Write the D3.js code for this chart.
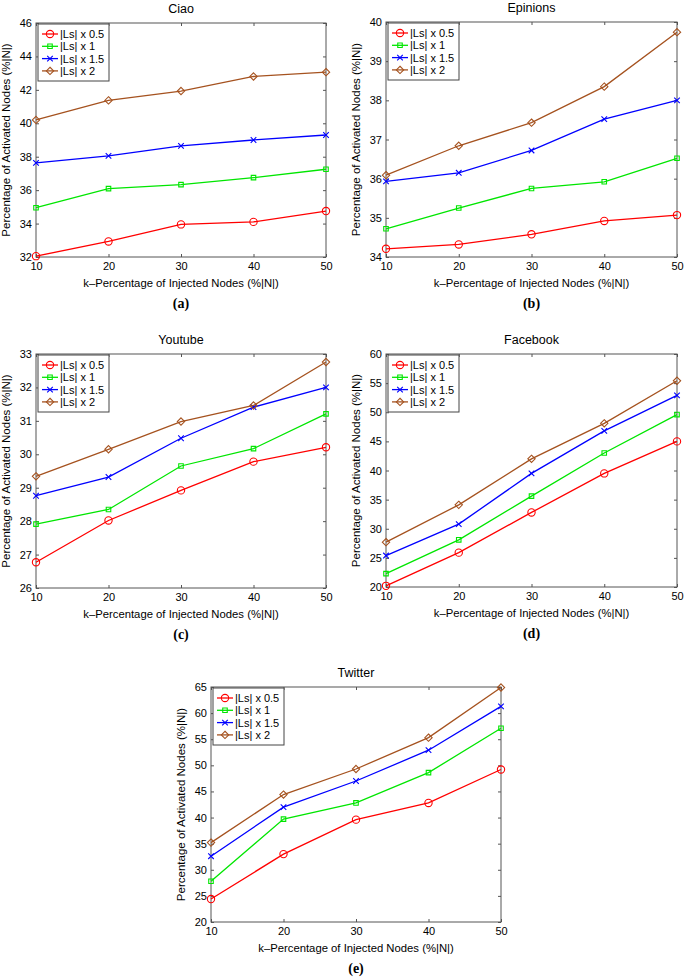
<!DOCTYPE html>
<html>
<head>
<meta charset="utf-8">
<script src="https://cdn.jsdelivr.net/npm/d3@7"></script>
<style>
  body { margin: 0; background: #fff; }
  text { font-family: "Liberation Sans", Arial, Helvetica, sans-serif; fill: #000; }
</style>
</head>
<body>
<div id="chart"></div>
<script>
// data
var kValues = [10, 20, 30, 40, 50];
var seriesNames = ["|Ls| x 0.5", "|Ls| x 1", "|Ls| x 1.5", "|Ls| x 2"];

var ciao = [
    [32.05, 32.93, 33.95, 34.1, 34.75],
    [34.95, 36.09, 36.33, 36.75, 37.25],
    [37.63, 38.05, 38.65, 39.0, 39.3],
    [40.2, 41.37, 41.93, 42.8, 43.06]
];
var epinions = [
    [34.21, 34.32, 34.58, 34.92, 35.07],
    [34.72, 35.25, 35.75, 35.92, 36.52],
    [35.93, 36.15, 36.72, 37.52, 38.0],
    [36.09, 36.84, 37.43, 38.35, 39.74]
];
var youtube = [
    [26.77, 28.02, 28.92, 29.78, 30.21],
    [27.91, 28.35, 29.65, 30.17, 31.21],
    [28.76, 29.32, 30.48, 31.41, 32.0],
    [29.34, 30.15, 30.98, 31.46, 32.76]
];
var facebook = [
    [20.2, 25.9, 32.8, 39.5, 45.0],
    [22.3, 28.1, 35.6, 43.0, 49.6],
    [25.4, 30.8, 39.5, 46.8, 52.9],
    [27.7, 34.1, 42.0, 48.1, 55.4]
];
var twitter = [
    [24.4, 33.0, 39.6, 42.8, 49.2],
    [27.8, 39.7, 42.8, 48.6, 57.1],
    [32.6, 42.0, 47.0, 52.9, 61.3],
    [35.2, 44.4, 49.3, 55.3, 64.9]
];

var titles = ["Ciao", "Epinions", "Youtube", "Facebook", "Twitter"];
var captions = ["(a)", "(b)", "(c)", "(d)", "(e)"];
var yDomains = [[32, 46], [34, 40], [26, 33], [20, 60], [20, 65]];
var yTicks = [
    [32, 34, 36, 38, 40, 42, 44, 46],
    [34, 35, 36, 37, 38, 39, 40],
    [26, 27, 28, 29, 30, 31, 32, 33],
    [20, 25, 30, 35, 40, 45, 50, 55, 60],
    [20, 25, 30, 35, 40, 45, 50, 55, 60, 65]
];
var allData = [ciao, epinions, youtube, facebook, twitter];

// layout of the plot boxes on the page
var boxes = [
    { l: 36, r: 326, t: 23, b: 257 },
    { l: 386, r: 677, t: 22, b: 257 },
    { l: 36, r: 326, t: 354, b: 588 },
    { l: 386, r: 677, t: 354, b: 587 },
    { l: 211, r: 501, t: 687, b: 922 }
];
var colors = ["#ff0000", "#00e600", "#0000ff", "#a5521f"];
var symbols = [d3.symbolCircle, d3.symbolSquare2, d3.symbolTimes, d3.symbolDiamond2];
var symSizes = [42, 26, 22, 34];

var svg = d3.select("#chart").append("svg").attr("width", 685).attr("height", 977);

allData.forEach(function (data, p) {
    var box = boxes[p];
    var w = box.r - box.l, h = box.b - box.t;
    var g = svg.append("g").attr("transform", "translate(" + box.l + "," + box.t + ")");

    var x = d3.scaleLinear().domain([10, 50]).range([0, w]);
    var y = d3.scaleLinear().domain(yDomains[p]).range([h, 0]);

    // axes with inward ticks (matlab style)
    g.append("g").attr("transform", "translate(0," + h + ")")
        .call(d3.axisBottom(x).tickValues(kValues).tickFormat(d3.format("d"))
            .tickSize(-3).tickSizeOuter(0).tickPadding(5));
    g.append("g")
        .call(d3.axisLeft(y).tickValues(yTicks[p]).tickFormat(d3.format("d"))
            .tickSize(-3).tickSizeOuter(0).tickPadding(4));
    g.append("g")
        .call(d3.axisTop(x).tickValues(kValues).tickSize(-3).tickSizeOuter(0).tickFormat(""));
    g.append("g").attr("transform", "translate(" + w + ",0)")
        .call(d3.axisRight(y).tickValues(yTicks[p]).tickSize(-3).tickSizeOuter(0).tickFormat(""));
    g.selectAll(".domain").remove();
    g.selectAll(".tick line").attr("stroke", "#555");
    g.selectAll(".tick text").style("font-size", "11px").attr("fill", "#111");

    g.append("rect").attr("width", w).attr("height", h)
        .attr("fill", "none").attr("stroke", "#555").attr("stroke-width", 1);

    // lines
    var line = d3.line()
        .x(function (d, i) { return x(kValues[i]); })
        .y(function (d) { return y(d); });

    data.forEach(function (vals, s) {
        g.append("path").datum(vals)
            .attr("d", line)
            .attr("fill", "none")
            .attr("stroke", colors[s])
            .attr("stroke-width", 1.3);
        g.selectAll(".m" + s)
            .data(vals)
            .enter()
            .append("path")
            .attr("class", "m" + s)
            .attr("transform", function (d, i) { return "translate(" + x(kValues[i]) + "," + y(d) + ")"; })
            .attr("d", d3.symbol().type(symbols[s]).size(symSizes[s]))
            .attr("fill", "none")
            .attr("stroke", colors[s])
            .attr("stroke-width", 1.1);
    });

    // legend
    var leg = g.append("g").attr("transform", "translate(2,1)");
    leg.append("rect").attr("width", 71).attr("height", 57)
        .attr("fill", "#fff").attr("stroke", "#444").attr("stroke-width", 1);
    seriesNames.forEach(function (name, s) {
        var ly = 10 + s * 12.3;
        leg.append("line").attr("x1", 4).attr("x2", 20).attr("y1", ly).attr("y2", ly)
            .attr("stroke", colors[s]).attr("stroke-width", 1.3);
        leg.append("path").attr("transform", "translate(12," + ly + ")")
            .attr("d", d3.symbol().type(symbols[s]).size(symSizes[s]))
            .attr("fill", "none").attr("stroke", colors[s]).attr("stroke-width", 1.1);
        leg.append("text").attr("x", 22).attr("y", ly).attr("dy", "0.36em")
            .style("font-size", "11px").text(name);
    });

    // title and labels
    svg.append("text")
        .attr("x", box.l + w / 2).attr("y", box.t - 10)
        .attr("text-anchor", "middle").style("font-size", "12.5px")
        .text(titles[p]);
    svg.append("text")
        .attr("x", box.l + w / 2).attr("y", box.b + 26).attr("dy", "0.35em")
        .attr("text-anchor", "middle").style("font-size", "11.3px")
        .text("k\u2013Percentage of Injected Nodes (%|N|)");
    svg.append("text")
        .attr("transform", "translate(" + (box.l - 30) + "," + (box.t + h / 2) + ") rotate(-90)")
        .attr("dy", "0.35em")
        .attr("text-anchor", "middle").style("font-size", "11.5px")
        .text("Percentage of Activated Nodes (%|N|)");
    svg.append("text")
        .attr("x", box.l + w / 2).attr("y", box.b + 46).attr("dy", "0.35em")
        .attr("text-anchor", "middle")
        .style("font-family", "'Liberation Serif', 'Times New Roman', serif")
        .style("font-weight", "bold").style("font-size", "14px")
        .text(captions[p]);
});
</script>
</body>
</html>
